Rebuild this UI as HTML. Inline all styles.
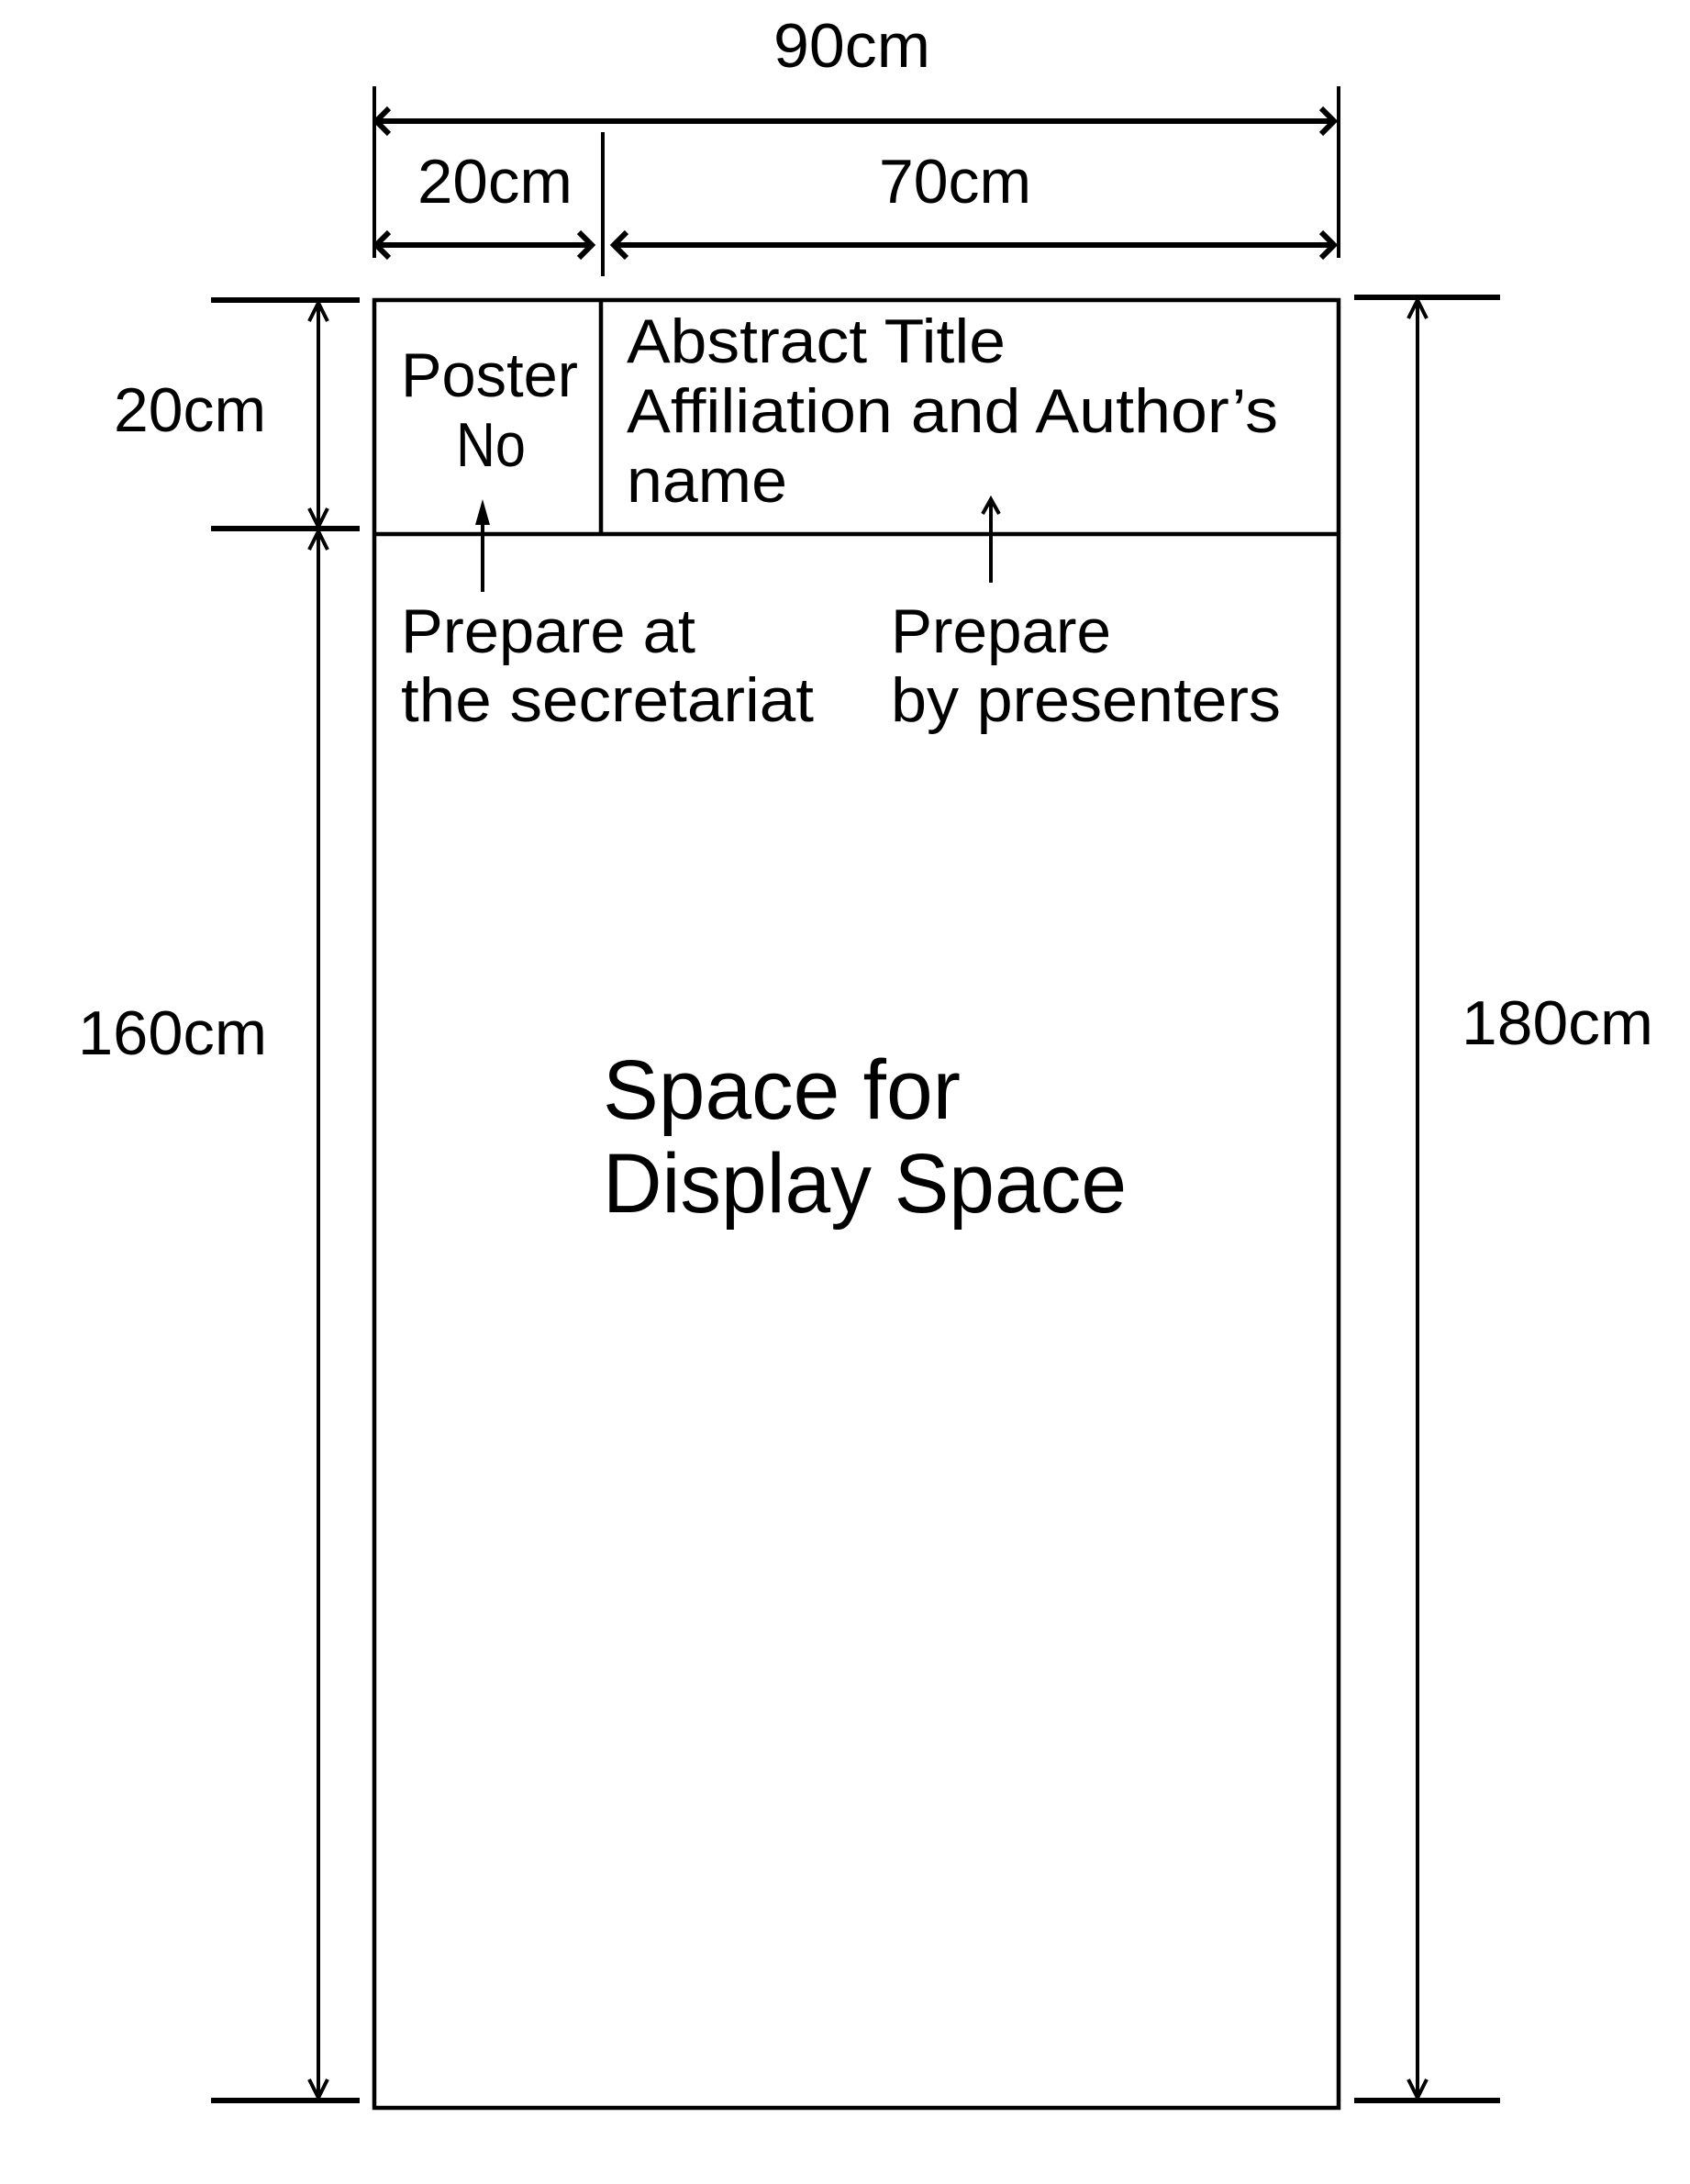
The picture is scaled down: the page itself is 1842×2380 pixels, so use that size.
<!DOCTYPE html>
<html><head><meta charset="utf-8"><style>html,body{margin:0;padding:0;background:#fff}svg{display:block}</style></head>
<body>
<svg width="1842" height="2380" viewBox="0 0 1842 2380" xmlns="http://www.w3.org/2000/svg" font-family="Liberation Sans, sans-serif" fill="#000">
<g stroke="#000" fill="none" stroke-linecap="butt">
<rect x="408" y="327" width="1051" height="1970" stroke-width="4.5"/>
<line x1="408" y1="582" x2="1459" y2="582" stroke-width="4.5"/>
<line x1="655" y1="327" x2="655" y2="582" stroke-width="4.5"/>
<line x1="408" y1="94" x2="408" y2="281" stroke-width="4"/>
<line x1="1459" y1="94" x2="1459" y2="281" stroke-width="4"/>
<line x1="657" y1="144" x2="657" y2="301" stroke-width="4"/>
<line x1="410" y1="132" x2="1454" y2="132" stroke-width="6"/>
<polyline points="424,118 410,132 424,146" stroke-width="6"/>
<polyline points="1440,118 1454,132 1440,146" stroke-width="6"/>
<line x1="410" y1="267" x2="645" y2="267" stroke-width="6"/>
<polyline points="424,253 410,267 424,281" stroke-width="6"/>
<polyline points="631,253 645,267 631,281" stroke-width="6"/>
<line x1="669" y1="267" x2="1454" y2="267" stroke-width="6"/>
<polyline points="683,253 669,267 683,281" stroke-width="6"/>
<polyline points="1440,253 1454,267 1440,281" stroke-width="6"/>
<line x1="230" y1="327" x2="392" y2="327" stroke-width="6"/>
<line x1="230" y1="576" x2="392" y2="576" stroke-width="6"/>
<line x1="230" y1="2289" x2="392" y2="2289" stroke-width="6"/>
<line x1="347" y1="330" x2="347" y2="2286" stroke-width="4"/>
<polyline points="337,350 347,330 357,350" stroke-width="4"/>
<polyline points="337,554 347,574 357,554" stroke-width="4"/>
<polyline points="337,599 347,579 357,599" stroke-width="4"/>
<polyline points="337,2266 347,2286 357,2266" stroke-width="4"/>
<line x1="1476" y1="324" x2="1635" y2="324" stroke-width="6"/>
<line x1="1476" y1="2289" x2="1635" y2="2289" stroke-width="6"/>
<line x1="1545" y1="327" x2="1545" y2="2286" stroke-width="4"/>
<polyline points="1535,347 1545,327 1555,347" stroke-width="4"/>
<polyline points="1535,2266 1545,2286 1555,2266" stroke-width="4"/>
<line x1="526" y1="645" x2="526" y2="552" stroke-width="4"/>
<polygon points="518,572 526,544 534,572" fill="#000" stroke="none"/>
<line x1="1080" y1="635" x2="1080" y2="544" stroke-width="4"/>
<polyline points="1071,560 1080,544 1089,560" stroke-width="4"/>
</g>
<g font-size="68">
<text x="843" y="73" textLength="171" lengthAdjust="spacingAndGlyphs">90cm</text>
<text x="455" y="221" textLength="169" lengthAdjust="spacingAndGlyphs">20cm</text>
<text x="958" y="221" textLength="166" lengthAdjust="spacingAndGlyphs">70cm</text>
<text x="124" y="470" textLength="166" lengthAdjust="spacingAndGlyphs">20cm</text>
<text x="85" y="1149" textLength="206" lengthAdjust="spacingAndGlyphs">160cm</text>
<text x="1593" y="1138" textLength="209" lengthAdjust="spacingAndGlyphs">180cm</text>
<text x="437" y="432" textLength="193" lengthAdjust="spacingAndGlyphs">Poster</text>
<text x="497" y="508" textLength="76" lengthAdjust="spacingAndGlyphs">No</text>
<text x="683" y="395" textLength="413" lengthAdjust="spacingAndGlyphs">Abstract Title</text>
<text x="683" y="471" textLength="710" lengthAdjust="spacingAndGlyphs">Affiliation and Author’s</text>
<text x="683" y="547" textLength="175" lengthAdjust="spacingAndGlyphs">name</text>
<text x="437" y="711" textLength="321" lengthAdjust="spacingAndGlyphs">Prepare at</text>
<text x="437" y="786" textLength="450" lengthAdjust="spacingAndGlyphs">the secretariat</text>
<text x="971" y="711" textLength="240" lengthAdjust="spacingAndGlyphs">Prepare</text>
<text x="971" y="786" textLength="425" lengthAdjust="spacingAndGlyphs">by presenters</text>
</g>
<g font-size="92">
<text x="657" y="1219" textLength="390" lengthAdjust="spacingAndGlyphs">Space for</text>
<text x="657" y="1321" textLength="571" lengthAdjust="spacingAndGlyphs">Display Space</text>
</g>
</svg>
</body></html>
